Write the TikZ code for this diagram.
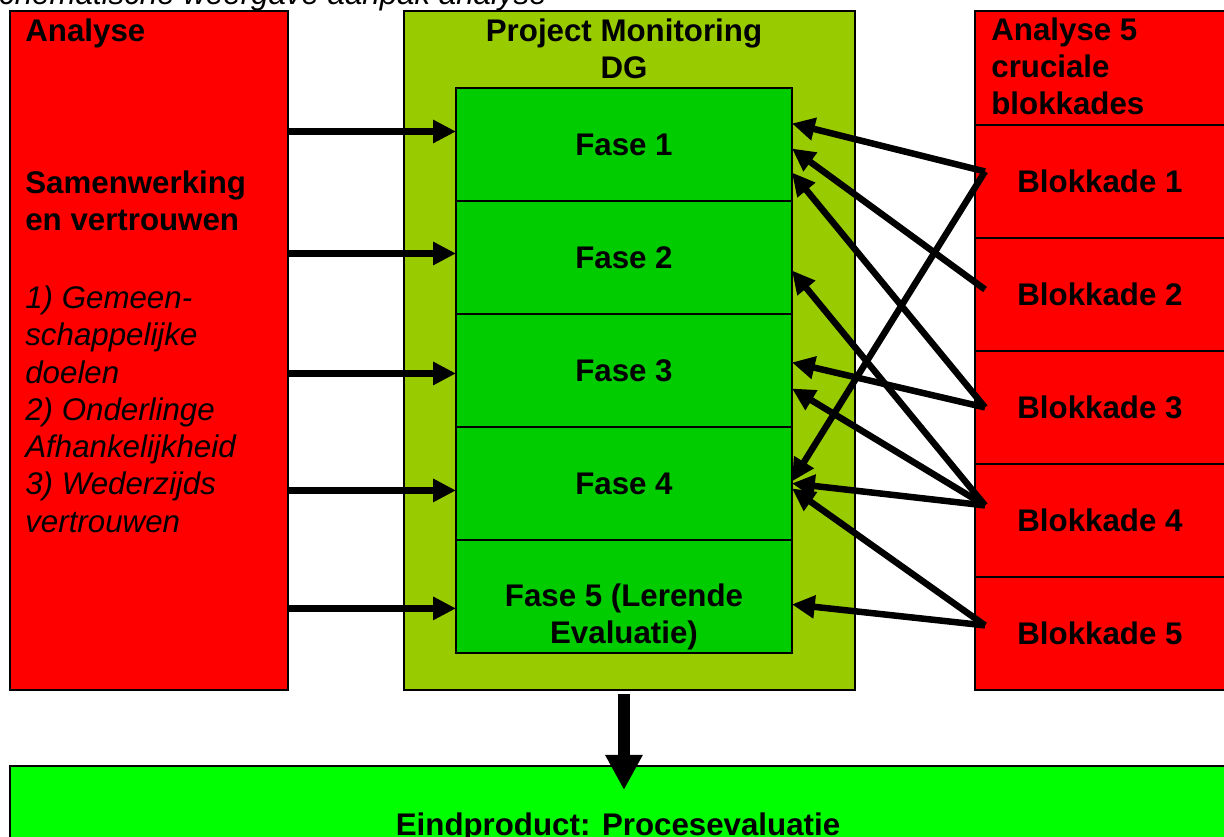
\documentclass[tikz,border=0pt]{standalone}
\usepackage{fontspec}
\setmainfont{Liberation Sans}
\usetikzlibrary{arrows.meta,calc,positioning}

\definecolor{rood}{RGB}{255,0,0}
\definecolor{olijf}{RGB}{153,204,0}
\definecolor{fasegroen}{RGB}{0,204,0}
\definecolor{felgroen}{RGB}{0,255,0}

\begin{document}
\begin{tikzpicture}[x=0.02cm, y=-0.02cm,
  vak/.style={draw=black, line width=1.2pt, inner sep=0pt, outer sep=0pt},
  tekst/.style={font=\fontsize{17.8}{21}\selectfont\bfseries},
  schuin/.style={font=\fontsize{17.8}{21.2}\selectfont\itshape},
  pijl/.style={line width=3.7pt, -{Triangle[length=13pt,width=12.5pt]}},
  dikpijl/.style={line width=6.8pt, -{Triangle[length=20pt,width=20pt]}}]
\useasboundingbox (0,0) rectangle (1224,836);

% Title, cut off at the top
\node (titel) [schuin, anchor=base west, inner sep=0pt] at (-22,4) {Schematische weergave aanpak analyse};

% Analysis column (multi-line texts sit on their last baseline)
\node (ana) [vak, fill=rood, anchor=north west, minimum width=5.56cm, minimum height=13.58cm] at (10,11) {};
\node (anatitel) [tekst, anchor=base west, inner sep=0pt] at (25,41) {Analyse};
\node (samen) [tekst, anchor=base west, align=left, inner sep=0pt] at (25,230) {Samenwerking\\en vertrouwen};
\node (punten) [schuin, anchor=base west, align=left, inner sep=0pt] at (25,532) {1) Gemeen-\\schappelijke\\doelen\\2) Onderlinge\\Afhankelijkheid\\3) Wederzijds\\vertrouwen};

% Project monitoring with phases
\node (pm) [vak, fill=olijf, anchor=north west, minimum width=9.02cm, minimum height=13.58cm] at (404,11) {};
\node (pmtitel) [tekst, anchor=base, align=center, inner sep=0pt] at (624,78) {Project Monitoring\\DG};
\node (fase1) [vak, fill=fasegroen, tekst, anchor=north west, minimum width=6.72cm, minimum height=2.26cm] at (456,88) {Fase 1};
\foreach \i/\t [count=\j] in {2/Fase 2,3/Fase 3,4/Fase 4,5/{}}
  \node (fase\i) [vak, fill=fasegroen, tekst, minimum width=6.72cm, minimum height=2.26cm, below=0pt of fase\j] {\t};
\node (fase5tekst) [tekst, anchor=base, align=center, inner sep=0pt] at (624,643) {Fase 5 (Lerende\\Evaluatie)};

% Blockades column
\node (kop) [vak, fill=rood, anchor=north west, minimum width=5cm, minimum height=2.28cm] at (975,11) {};
\node (koptitel) [tekst, anchor=base west, align=left, inner sep=0pt] at (991,114) {Analyse 5\\cruciale\\blokkades};
\node (blok1) [vak, fill=rood, tekst, minimum width=5cm, minimum height=2.26cm, below=0pt of kop] {Blokkade 1};
\foreach \i [count=\j] in {2,...,5}
  \node (blok\i) [vak, fill=rood, tekst, minimum width=5cm, minimum height=2.26cm, below=0pt of blok\j] {Blokkade \i};

% End product
\node (eind) [vak, fill=felgroen, anchor=north west, minimum width=24.32cm, minimum height=2.68cm] at (10,766) {};
\node (eindtekst) [tekst, anchor=base, inner sep=0pt] at (618,835) {Eindproduct: Procesevaluatie};

% Arrows from the analysis
\foreach \i/\d in {1/-13,2/-4,3/3,4/7,5/12} {
  \coordinate (doel\i) at ($(fase\i.west)+(0,\d)$);
  \draw[pijl] (ana.east |- doel\i) -- (doel\i);
}

% Arrows from the blockades
\foreach \b/\bd/\f/\fd in {1/-10/1/-21, 1/-10/4/-2, 2/-5/1/4, 3/0/1/28, 3/0/3/-8, 4/-15/2/13, 4/-15/3/18, 4/-15/4/0, 5/-8/4/5, 5/-8/5/8}
  \draw[pijl] ($(blok\b.west)+(10,\bd)$) -- ($(fase\f.east)+(0,\fd)$);

% Down to the end product
\draw[dikpijl] ($(pm.south -| fase5.south)+(0,4)$) -- ($(eind.north -| fase5.south)+(0,24)$);
\end{tikzpicture}
\end{document}
